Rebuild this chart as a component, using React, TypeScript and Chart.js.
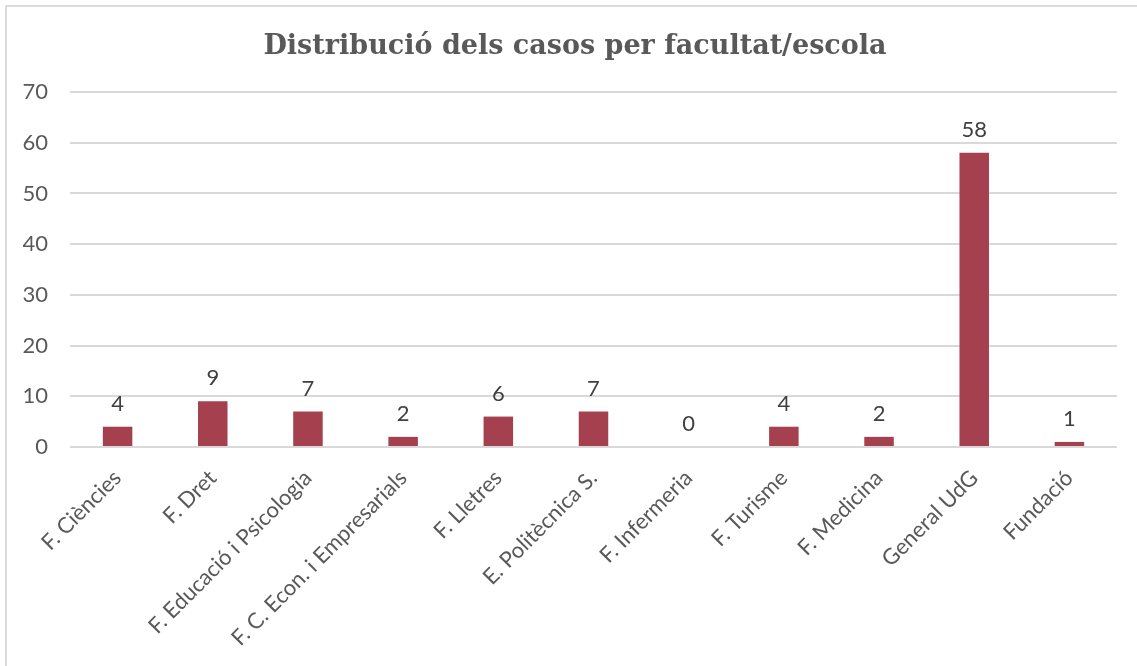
import React, { useEffect, useRef } from "react";
import { Chart, registerables } from "chart.js";

Chart.register(...registerables);

const TITLE = "Distribució dels casos per facultat/escola";
const categories = [
  "F. Ciències",
  "F. Dret",
  "F. Educació i Psicologia",
  "F. C. Econ. i Empresarials",
  "F. Lletres",
  "E. Politècnica S.",
  "F. Infermeria",
  "F. Turisme",
  "F. Medicina",
  "General UdG",
  "Fundació",
];
const values = [4, 9, 7, 2, 6, 7, 0, 4, 2, 58, 1];
const yMin = 0;
const yMax = 70;
const yStep = 10;

const BAR_COLOR = "#A5404F";
const SANS = "Lato, 'Open Sans', sans-serif";

const valueLabels = {
  id: "valueLabels",
  afterDatasetsDraw(chart: any) {
    const ctx = chart.ctx;
    const meta = chart.getDatasetMeta(0);
    ctx.save();
    ctx.font = `22px ${SANS}`;
    ctx.fillStyle = "#404040";
    ctx.textAlign = "center";
    ctx.textBaseline = "alphabetic";
    meta.data.forEach((el: any, i: number) => {
      const v = chart.data.datasets[0].data[i];
      ctx.fillText(String(v), el.x, el.y - 16);
    });
    ctx.restore();
  },
};

const titleText = {
  id: "titleText",
  afterDraw(chart: any) {
    const ctx = chart.ctx;
    ctx.save();
    ctx.font = "bold 27px 'DejaVu Serif', 'Liberation Serif', serif";
    ctx.fillStyle = "#595959";
    ctx.textAlign = "center";
    ctx.textBaseline = "middle";
    ctx.fillText(TITLE, 575, 47);
    ctx.restore();
  },
};

export default function App() {
  const ref = useRef<HTMLCanvasElement | null>(null);
  useEffect(() => {
    document.body.style.margin = "0";
    const c = new Chart(ref.current as HTMLCanvasElement, {
      type: "bar",
      data: {
        labels: categories,
        datasets: [
          {
            data: values,
            backgroundColor: BAR_COLOR,
            borderWidth: 0,
            barPercentage: 0.62,
            categoryPercentage: 0.5,
          },
        ],
      },
      plugins: [valueLabels, titleText],
      options: {
        responsive: false,
        animation: false,
        layout: { padding: { left: 0, right: 20, top: 92, bottom: 0 } },
        plugins: {
          legend: { display: false },
          tooltip: { enabled: false },
          title: { display: false },
        },
        scales: {
          x: {
            grid: { display: false },
            border: { display: false },
            ticks: {
              color: "#595959",
              font: { family: SANS, size: 22 },
              maxRotation: 45,
              minRotation: 45,
              autoSkip: false,
              padding: 10,
            },
            afterFit(scale: any) {
              scale.height = 219;
            },
          },
          y: {
            min: yMin,
            max: yMax,
            ticks: {
              stepSize: yStep,
              color: "#595959",
              font: { family: SANS, size: 22 },
              padding: 22,
            },
            grid: { color: "#d9d9d9", lineWidth: 2, drawTicks: false },
            border: { display: false },
            afterFit(scale: any) {
              scale.width = 70;
            },
          },
        },
      },
    } as any);
    return () => c.destroy();
  }, []);
  return (
    <div style={{ position: "relative", width: 1137, height: 666, background: "#fff", overflow: "hidden" }}>
      <div
        style={{
          position: "absolute",
          left: 5,
          top: 5,
          width: 1200,
          height: 700,
          borderTop: "2px solid #dcdcdc",
          borderLeft: "2px solid #dcdcdc",
        }}
      />
      <canvas ref={ref} width={1137} height={666} style={{ position: "absolute", left: 0, top: 0 }} />
    </div>
  );
}
